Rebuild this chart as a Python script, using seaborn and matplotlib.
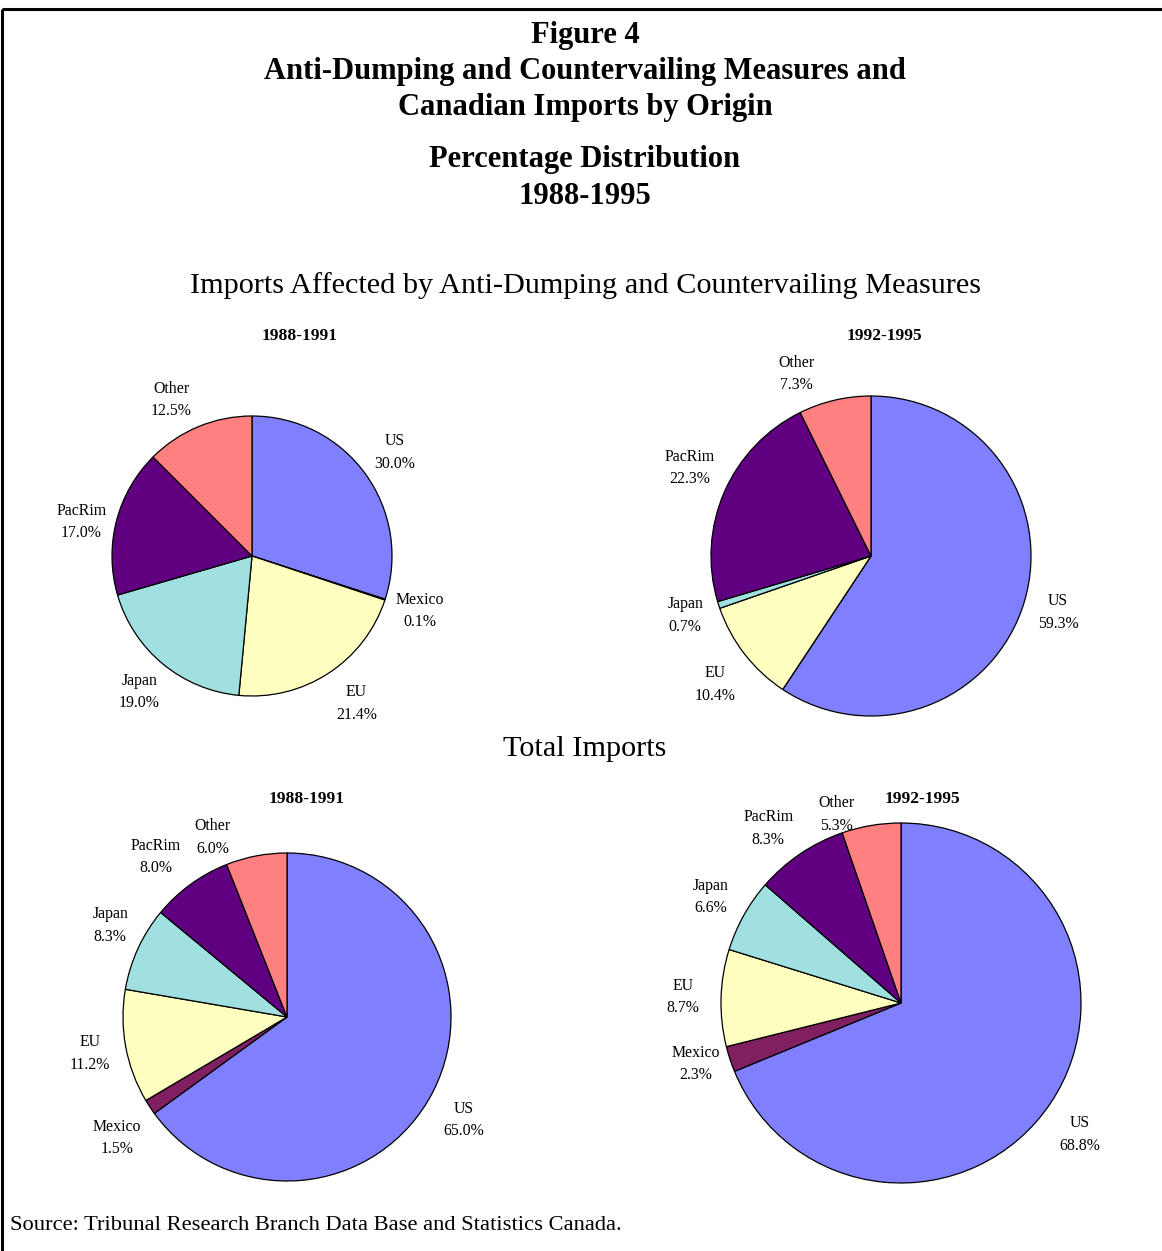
import numpy as np
import matplotlib
matplotlib.use("Agg")
import matplotlib.pyplot as plt
import seaborn as sns

# Origin categories and their shares (%) of imports
origins = ["US", "Mexico", "EU", "Japan", "PacRim", "Other"]
affected_1988_1991 = [30.0, 0.1, 21.4, 19.0, 17.0, 12.5]
affected_1992_1995 = [59.3, 0.0, 10.4, 0.7, 22.3, 7.3]
total_1988_1991 = [65.0, 1.5, 11.2, 8.3, 8.0, 6.0]
total_1992_1995 = [68.8, 2.3, 8.7, 6.6, 8.3, 5.3]
periods = ["1988-1991", "1992-1995"]

origin_colors = ["#8080FF", "#802060", "#FFFFC0", "#A0E0E0", "#600080", "#FF8080"]

sns.set_theme(style="white")
plt.rcParams["font.family"] = ["Liberation Serif", "DejaVu Serif"]
plt.rcParams["text.color"] = "black"

W, H = 1162, 1251
fig = plt.figure(figsize=(W / 100, H / 100), dpi=100)
ax = fig.add_axes([0, 0, 1, 1])


def draw_pie(values, cx, cy, r, label_dist, period, title_xy, nudges):
    """Pie with slices clockwise from 12 o'clock; nudges shift labels (px, y down)."""
    cy = H - cy
    ax.pie(values, colors=sns.color_palette(origin_colors), startangle=90,
           counterclock=False, center=(cx, cy), radius=r, frame=True,
           wedgeprops=dict(edgecolor="black", linewidth=0.9))
    cum = np.cumsum([0] + list(values[:-1]))
    for name, v, c0 in zip(origins, values, cum):
        if v <= 0:
            continue
        ang = np.deg2rad(90 - 360 * (c0 + v / 2) / 100)
        dx, dy = nudges.get(name, (0, 0))
        lx = cx + label_dist * r * np.cos(ang) + dx
        ly = cy + label_dist * r * np.sin(ang) - dy
        ax.text(lx, ly, f"{name}\n{v:.1f}%", ha="center", va="center",
                fontsize=11.4, linespacing=1.55, color="black")
    ax.text(title_xy[0], H - title_xy[1], period, ha="center", va="center",
            fontsize=12.5, fontweight="bold", color="black")


draw_pie(affected_1988_1991, 252, 556, 140, 1.26, periods[0], (300, 336),
         {"Other": (-13, 7), "PacRim": (0, 10), "EU": (8, 0)})
draw_pie(affected_1992_1995, 871, 556, 160, 1.22, periods[1], (884, 336),
         {"Other": (-30, 8), "PacRim": (-2, -10), "EU": (-2, 9)})
draw_pie(total_1988_1991, 287, 1017, 164, 1.22, periods[0], (307, 799),
         {"Other": (-37, 17), "PacRim": (-14, 2), "Mexico": (-3, 11),
          "US": (-2, 12), "Japan": (5, -8)})
draw_pie(total_1992_1995, 901, 1003, 180, 1.21, periods[1], (922, 799),
         {"Other": (-28, 26), "PacRim": (-11, 6), "US": (-2, 10),
          "Mexico": (2, -7)})

# Headings
title_lines = [("Figure 4", 35), ("Anti-Dumping and Countervailing Measures and", 71),
               ("Canadian Imports by Origin", 108), ("Percentage Distribution", 160),
               ("1988-1995", 196)]
for txt, y in title_lines:
    ax.text(585, H - y, txt, ha="center", va="center", fontsize=22,
            fontweight="bold", color="black")

ax.text(585, H - 286, "Imports Affected by Anti-Dumping and Countervailing Measures",
        ha="center", va="center", fontsize=21.8, color="black")
ax.text(585, H - 749, "Total Imports", ha="center", va="center", fontsize=21.8,
        color="black")
ax.text(10, H - 1225, "Source: Tribunal Research Branch Data Base and Statistics Canada.",
        ha="left", va="center", fontsize=16.2, color="black")

# Frame lines along the top and left edges
ax.plot([2, W], [H - 9, H - 9], color="black", lw=2.2, clip_on=False,
        solid_capstyle="butt")
ax.plot([2, 2], [H - 9, 0], color="black", lw=2.2, clip_on=False,
        solid_capstyle="butt")

ax.set_xlim(0, W)
ax.set_ylim(0, H)
ax.set_aspect("equal", adjustable="box")
ax.axis("off")

fig.savefig("out.png", dpi=100, facecolor="white")
